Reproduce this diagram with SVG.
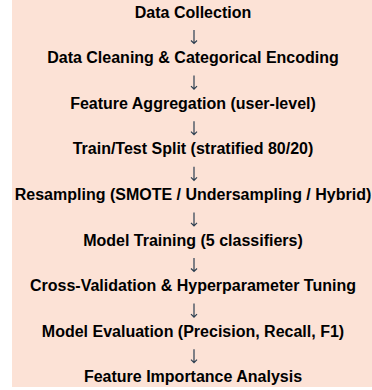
<svg xmlns="http://www.w3.org/2000/svg" width="372" height="390" viewBox="0 0 372 390">
<style>
.lbl{font-family:"Liberation Sans",Arial,sans-serif;font-weight:bold;font-size:16px;fill:#000;text-anchor:middle}
.arr{stroke:#2c3e50;stroke-width:1.2;fill:none}
</style>
<rect x="0" y="0" width="372" height="390" fill="#ffffff"/>
<rect x="12" y="0" width="360" height="387" fill="#fce2d6"/>
<g id="connectors">
<path class="arr" d="M194 30V43M191 40.5L194 43.5L197 40.5"/>
<path class="arr" d="M194 75.6V88.6M191 86.1L194 89.1L197 86.1"/>
<path class="arr" d="M194 121.2V134.2M191 131.7L194 134.7L197 131.7"/>
<path class="arr" d="M194 166.8V179.8M191 177.3L194 180.3L197 177.3"/>
<path class="arr" d="M194 212.4V225.4M191 222.9L194 225.9L197 222.9"/>
<path class="arr" d="M194 258V271M191 268.5L194 271.5L197 268.5"/>
<path class="arr" d="M194 303.6V316.6M191 314.1L194 317.1L197 314.1"/>
<path class="arr" d="M194 349.2V362.2M191 359.7L194 362.7L197 359.7"/>
</g>
<g id="n1"><text class="lbl" x="193" y="17.5">Data Collection</text></g>
<g id="n2"><text class="lbl" x="193" y="63.1">Data Cleaning &amp; Categorical Encoding</text></g>
<g id="n3"><text class="lbl" x="193" y="108.7">Feature Aggregation (user-level)</text></g>
<g id="n4"><text class="lbl" x="193" y="154.3">Train/Test Split (stratified 80/20)</text></g>
<g id="n5"><text class="lbl" x="193" y="199.9">Resampling (SMOTE / Undersampling / Hybrid)</text></g>
<g id="n6"><text class="lbl" x="193" y="245.5">Model Training (5 classifiers)</text></g>
<g id="n7"><text class="lbl" x="193" y="291.1">Cross-Validation &amp; Hyperparameter Tuning</text></g>
<g id="n8"><text class="lbl" x="193" y="336.7">Model Evaluation (Precision, Recall, F1)</text></g>
<g id="n9"><text class="lbl" x="193" y="382.3">Feature Importance Analysis</text></g>
</svg>
